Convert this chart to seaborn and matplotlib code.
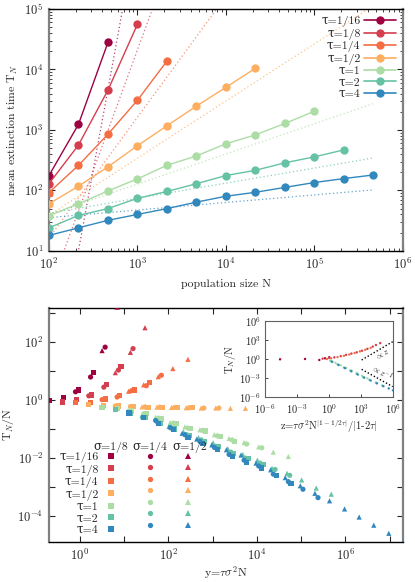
import numpy as np
import pandas as pd
import matplotlib
matplotlib.use("Agg")
import matplotlib.pyplot as plt
import seaborn as sns
from matplotlib.ticker import FixedLocator, NullFormatter, LogLocator, LogFormatterSciNotation, NullLocator
from matplotlib.lines import Line2D
from matplotlib.font_manager import FontProperties

sns.set_theme(style="ticks")
plt.rcParams.update({
    "font.family": "serif",
    "font.serif": ["cmr10", "DejaVu Serif"],
    "mathtext.fontset": "cm",
    "axes.formatter.use_mathtext": True,
    "axes.unicode_minus": False,
})
FAM = ["cmr10", "DejaVu Serif"]

# ---------------- data ----------------
TAU_LABELS = ["1/16", "1/8", "1/4", "1/2", "1", "2", "4"]
SIGMA_LABELS = ["1/8", "1/4", "1/2"]
COLORS = ["#9e0142", "#d53e4f", "#f46d43", "#fdae61", "#abdda4", "#66c2a5", "#3288bd"]

# top panel: population sizes and mean extinction times
N_GRID = [100, 215, 464, 1000, 2154, 4642, 10000, 21544, 46416, 100000, 215443, 464159]
T_TAU_1_16 = [176, 1230, 28000]
T_TAU_1_8 = [129, 560, 4560, 56000]
T_TAU_1_4 = [92, 259, 850, 3100, 13800]
T_TAU_1_2 = [60, 117, 245, 550, 1170, 2480, 5070, 10500]
T_TAU_1 = [38, 60, 98, 155, 260, 372, 590, 830, 1280, 2040]
T_TAU_2 = [24, 38.5, 50, 74, 96, 129, 176, 215, 286, 359, 468]
T_TAU_4 = [18, 24, 32, 40, 50, 64, 80, 93, 112, 135, 157, 180]
# asymptotic guides (dotted): exponent and log10 prefactor
GUIDE_EXP = [8, 4, 2, 0.946, 0.5, 0.25, 0.125]
GUIDE_LOGC = [-17.66, -7.675, -2.79, -0.305, 0.603, 1.12, 1.30]
GUIDE_N = [100, 464159]

# bottom panel: log10(y) and log10(T_N/N), per tau, for sigma = 1/8, 1/4, 1/2
LY_1_16 = [[-0.70, -0.37, -0.03, 0.30], [-0.10, 0.24, 0.57], [0.50, 0.84]]
LV_1_16 = [[-0.02, 0.08, 0.34, 0.94], [0.28, 0.79, 1.82], [1.70, 3.20]]
LY_1_8 = [[-0.40, -0.07, 0.27, 0.60, 0.93], [0.20, 0.54, 0.87, 1.20], [0.80, 1.14, 1.47]]
LV_1_8 = [[-0.07, 0.01, 0.17, 0.54, 1.15], [0.14, 0.44, 1.03, 1.77], [0.94, 1.64, 2.49]]
LY_1_4 = [[-0.10, 0.24, 0.57, 0.90, 1.24, 1.57], [0.50, 0.84, 1.17, 1.50, 1.84], [1.10, 1.44, 1.77, 2.10, 2.44]]
LV_1_4 = [[-0.10, -0.08, 0.03, 0.14, 0.34, 0.59], [0.01, 0.10, 0.32, 0.49, 0.85], [0.30, 0.52, 0.80, 1.08, 1.40]]
LY_1_2 = [[0.20, 0.54, 0.87, 1.20, 1.54, 1.87, 2.20, 2.54],
          [0.80, 1.14, 1.47, 1.80, 2.14, 2.47, 2.80, 3.14],
          [1.40, 1.74, 2.07, 2.40, 2.74, 3.07, 3.40, 3.74]]
LV_1_2 = [[-0.17, -0.18, -0.21, -0.23, -0.25, -0.25, -0.26, -0.27],
          [-0.21, -0.23, -0.24, -0.25, -0.26, -0.27, -0.28, -0.28],
          [-0.24, -0.25, -0.26, -0.27, -0.28, -0.28, -0.29, -0.29]]
LY_1 = [[0.50, 0.84, 1.17, 1.50, 1.84, 2.17, 2.50, 2.84, 3.17, 3.50],
        [1.11, 1.44, 1.77, 2.11, 2.44, 2.77, 3.11, 3.44, 3.77, 4.11],
        [1.71, 2.04, 2.37, 2.71, 3.04, 3.37, 3.71, 4.04, 4.37, 4.71]]
LV_1 = [[-0.25, -0.30, -0.38, -0.47, -0.66, -0.82, -0.98, -1.07, -1.25, -1.42],
        [-0.38, -0.48, -0.63, -0.80, -0.97, -1.05, -1.24, -1.38, -1.52, -1.65],
        [-0.60, -0.78, -0.93, -1.03, -1.20, -1.33, -1.47, -1.62, -1.80, -1.95]]
LY_2 = [[0.81, 1.14, 1.47, 1.81, 2.14, 2.47, 2.81, 3.14, 3.47, 3.81, 4.14],
        [1.41, 1.74, 2.07, 2.41, 2.74, 3.07, 3.41, 3.74, 4.07, 4.41, 4.74],
        [2.01, 2.34, 2.68, 3.01, 3.34, 3.68, 4.01, 4.34, 4.68, 5.01, 5.34, 5.68]]
LV_2 = [[-0.34, -0.48, -0.62, -0.80, -1.00, -1.22, -1.42, -1.62, -1.84, -2.03, -2.22],
        [-0.60, -0.75, -0.98, -1.20, -1.38, -1.60, -1.80, -2.01, -2.18, -2.40, -2.60],
        [-0.92, -1.10, -1.30, -1.48, -1.68, -1.88, -2.08, -2.36, -2.53, -2.76, -3.04, -3.25]]
LY_4 = [[1.11, 1.44, 1.77, 2.11, 2.44, 2.77, 3.11, 3.44, 3.77, 4.11, 4.44, 4.77],
        [1.71, 2.04, 2.37, 2.71, 3.04, 3.37, 3.71, 4.04, 4.37, 4.71, 5.04, 5.38],
        [2.31, 2.64, 2.98, 3.31, 3.64, 3.98, 4.31, 4.64, 4.98, 5.31, 5.64, 5.98, 6.31, 6.64, 6.98, 7.31]]
LV_4 = [[-0.45, -0.60, -0.80, -1.03, -1.29, -1.49, -1.72, -1.96, -2.15, -2.35, -2.62, -2.87],
        [-0.71, -0.95, -1.20, -1.43, -1.64, -1.88, -2.08, -2.28, -2.56, -2.82, -3.08, -3.37],
        [-1.15, -1.35, -1.55, -1.72, -1.90, -2.18, -2.41, -2.68, -2.96, -3.22, -3.48, -3.76, -4.04, -4.32, -4.60, -4.90]]

# inset: log10(z), log10(T_N/N) per tau
IN_LZ_1_16 = [-4.59, -2.25, -0.91, -0.38, 0.03]
IN_LV_1_16 = [-0.05, 0.0, -0.16, 0.11, 0.27]
IN_LZ_1_8 = [-0.6, 0.0, 0.5, 1.1, 1.6, 2.1, 2.6, 3.1, 3.6, 4.1, 4.4, 4.8]
IN_LV_1_8 = [0.05, 0.2, 0.25, 0.45, 0.65, 0.85, 1.05, 1.3, 1.6, 1.95, 2.2, 2.5]
IN_LZ_1_4 = [-0.2, 0.2, 0.8, 1.4, 1.9, 2.4, 2.9, 3.4, 3.9]
IN_LV_1_4 = [0.0, 0.1, 0.3, 0.5, 0.7, 0.95, 1.2, 1.45, 1.75]
IN_LZ_1 = [0.1, 0.6, 1.1, 1.6, 2.1, 2.6, 3.1, 3.6]
IN_LV_1 = [-0.25, -0.6, -1.0, -1.4, -1.8, -2.2, -2.65, -3.05]
IN_LZ_2 = [0.2, 0.8, 1.4, 2.0, 2.6, 3.2, 3.8, 4.4, 5.0]
IN_LV_2 = [-0.35, -0.85, -1.35, -1.85, -2.35, -2.85, -3.3, -3.75, -4.2]
IN_LZ_4 = [0.3, 0.9, 1.5, 2.1, 2.7, 3.3, 3.9, 4.5, 5.1, 5.6, 6.0]
IN_LV_4 = [-0.45, -0.95, -1.45, -1.95, -2.45, -2.95, -3.4, -3.85, -4.3, -4.65, -4.95]
GUIDE_UP_LZ = [3.06, 5.97]
GUIDE_UP_LV = [-0.16, 2.73]
GUIDE_DN_LZ = [3.06, 5.97]
GUIDE_DN_LV = [-1.63, -4.37]

# ---------------- build tables ----------------
top_series = [T_TAU_1_16, T_TAU_1_8, T_TAU_1_4, T_TAU_1_2, T_TAU_1, T_TAU_2, T_TAU_4]
rows = []
for lab, T in zip(TAU_LABELS, top_series):
    for n, t in zip(N_GRID, T):
        rows.append({"tau": lab, "N": n, "T": t})
df_top = pd.DataFrame(rows)

bot_y = [LY_1_16, LY_1_8, LY_1_4, LY_1_2, LY_1, LY_2, LY_4]
bot_v = [LV_1_16, LV_1_8, LV_1_4, LV_1_2, LV_1, LV_2, LV_4]
rows = []
for lab, ys, vs in zip(TAU_LABELS, bot_y, bot_v):
    for sig, yy, vv in zip(SIGMA_LABELS, ys, vs):
        for a, b in zip(yy, vv):
            rows.append({"tau": lab, "sigma": sig, "y": 10 ** a, "v": 10 ** b})
df_bot = pd.DataFrame(rows)

rows = []
for lab, zz, vv in [("1/16", IN_LZ_1_16, IN_LV_1_16), ("1/8", IN_LZ_1_8, IN_LV_1_8),
                    ("1/4", IN_LZ_1_4, IN_LV_1_4), ("1", IN_LZ_1, IN_LV_1),
                    ("2", IN_LZ_2, IN_LV_2), ("4", IN_LZ_4, IN_LV_4)]:
    for a, b in zip(zz, vv):
        rows.append({"tau": lab, "z": 10 ** a, "v": 10 ** b})
df_in = pd.DataFrame(rows)

pal = dict(zip(TAU_LABELS, COLORS))

# ---------------- figure ----------------
fig = plt.figure(figsize=(4.15, 5.82), dpi=100)
ax1 = fig.add_axes([0.118, 0.569, 0.853, 0.4155])
ax2 = fig.add_axes([0.118, 0.0687, 0.853, 0.4021])
axi = fig.add_axes([0.6386, 0.3179, 0.3084, 0.1306])

def style_spines(ax):
    for s in ["left", "right"]:
        ax.spines[s].set_color("#808080")
        ax.spines[s].set_linewidth(1.6)
    for s in ["top", "bottom"]:
        ax.spines[s].set_color("black")
        ax.spines[s].set_linewidth(1.0)

leg_font = FontProperties(family=FAM, size=8.5)

# ---- top panel ----
for i, lab in enumerate(TAU_LABELS):
    gN = np.array(GUIDE_N, dtype=float)
    ax1.plot(gN, 10 ** GUIDE_LOGC[i] * gN ** GUIDE_EXP[i], ls=(0, (1, 2)), lw=0.9,
             color=COLORS[i], alpha=0.75, zorder=1)
sns.lineplot(data=df_top, x="N", y="T", hue="tau", hue_order=TAU_LABELS, palette=pal,
             marker="o", markersize=6, markeredgewidth=0, linewidth=1.0, legend=False,
             ax=ax1, zorder=3)
ax1.set_xscale("log")
ax1.set_yscale("log")
ax1.set_xlim(100, 1e6)
ax1.set_ylim(10, 1e5)
ax1.set_xlabel("population size N", fontsize=8.5, labelpad=5)
ax1.set_ylabel(r"mean extinction time T$_N$", fontsize=8.5, labelpad=3)
ax1.tick_params(which="both", direction="in", top=True, right=True, labelsize=9, pad=4)
ax1.tick_params(which="major", length=4, width=0.8)
ax1.tick_params(which="minor", length=2.2, width=0.6)
ax1.xaxis.set_major_locator(LogLocator(base=10, numticks=10))
ax1.xaxis.set_minor_locator(LogLocator(base=10, subs=np.arange(2, 10), numticks=20))
ax1.yaxis.set_major_locator(LogLocator(base=10, numticks=10))
ax1.yaxis.set_minor_locator(LogLocator(base=10, subs=np.arange(2, 10), numticks=20))
ax1.xaxis.set_minor_formatter(NullFormatter())
ax1.yaxis.set_minor_formatter(NullFormatter())
style_spines(ax1)

handles = [Line2D([], [], color=c, marker="o", ms=6, mew=0, lw=1.2) for c in COLORS]
labels = ["\u03c4=" + t for t in TAU_LABELS]
ax1.legend(handles, labels, loc="upper right", frameon=False, markerfirst=False,
           prop=leg_font, handlelength=2.7, handletextpad=0.3, labelspacing=0.1,
           borderaxespad=0.3, borderpad=0.3)

# ---- bottom panel ----
sns.scatterplot(data=df_bot, x="y", y="v", hue="tau", hue_order=TAU_LABELS, palette=pal,
                style="sigma", style_order=SIGMA_LABELS,
                markers={"1/8": "s", "1/4": "o", "1/2": "^"},
                s=14, linewidth=0, legend=False, ax=ax2, zorder=3)
ax2.set_xscale("log")
ax2.set_yscale("log")
ax2.set_xlim(10 ** -0.70, 10 ** 7.3)
ax2.set_ylim(10 ** -4.9, 10 ** 3.17)
ax2.set_xlabel(r"y=$\tau\sigma^2$N", fontsize=8.5, labelpad=1)
ax2.set_ylabel(r"T$_N$/N", fontsize=8.5, labelpad=1)
ax2.xaxis.set_major_locator(FixedLocator([1, 1e2, 1e4, 1e6]))
ax2.xaxis.set_minor_locator(FixedLocator([1e-1, 1e1, 1e3, 1e5, 1e7]))
ax2.yaxis.set_major_locator(FixedLocator([1e-4, 1e-2, 1, 1e2]))
ax2.yaxis.set_minor_locator(FixedLocator([1e-5, 1e-3, 1e-1, 1e1, 1e3]))
ax2.xaxis.set_major_formatter(LogFormatterSciNotation())
ax2.yaxis.set_major_formatter(LogFormatterSciNotation())
ax2.xaxis.set_minor_formatter(NullFormatter())
ax2.yaxis.set_minor_formatter(NullFormatter())
ax2.tick_params(which="both", direction="in", top=True, right=True, labelsize=9, length=4, width=0.8, pad=4)
style_spines(ax2)

mk = {"1/8": "s", "1/4": "o", "1/2": "^"}
h2, l2 = [], []
for sig in SIGMA_LABELS:
    for lab, c in zip(TAU_LABELS, COLORS):
        h2.append(Line2D([], [], ls="none", marker=mk[sig], color=c, ms=3.8, mew=0))
        l2.append("\u03c4=" + lab if sig == "1/8" else "")
ax2.legend(h2, l2, ncol=3, loc="upper right", bbox_to_anchor=(0.41, 0.385), frameon=False,
           markerfirst=False, prop=leg_font, handlelength=1.0, handletextpad=0.6,
           columnspacing=1.65, labelspacing=0.1, borderaxespad=0, borderpad=0)
for sig, xf in zip(SIGMA_LABELS, [0.175, 0.285, 0.398]):
    ax2.text(xf, 0.402, "\u03c3=" + sig, transform=ax2.transAxes, ha="center",
             va="center", fontproperties=leg_font)

# ---- inset ----
sns.scatterplot(data=df_in, x="z", y="v", hue="tau", palette=pal, s=3, linewidth=0,
                legend=False, ax=axi, zorder=3)
axi.plot(10 ** np.array(GUIDE_UP_LZ), 10 ** np.array(GUIDE_UP_LV), ls=(0, (1, 1.5)), color="black", lw=1.0)
axi.plot(10 ** np.array(GUIDE_DN_LZ), 10 ** np.array(GUIDE_DN_LV), ls=(0, (1, 1.5)), color="black", lw=1.0)
axi.text(10 ** 5.0, 10 ** 0.75, r"$\propto z$", fontsize=6, rotation=30, ha="center", va="center")
axi.text(10 ** 5.0, 10 ** -2.1, r"$\propto z^{-1}$", fontsize=6, rotation=-30, ha="center", va="center")
axi.set_xscale("log")
axi.set_yscale("log")
axi.set_xlim(1e-6, 1e6)
axi.set_ylim(1e-6, 1e6)
axi.xaxis.set_major_locator(FixedLocator([1e-6, 1e-3, 1, 1e3, 1e6]))
axi.yaxis.set_major_locator(FixedLocator([1e-6, 1e-3, 1, 1e3, 1e6]))
axi.xaxis.set_minor_locator(NullLocator())
axi.yaxis.set_minor_locator(NullLocator())
axi.xaxis.set_major_formatter(LogFormatterSciNotation())
axi.yaxis.set_major_formatter(LogFormatterSciNotation())
axi.tick_params(which="both", direction="in", labelsize=7.5, length=2.5, width=0.6)
axi.tick_params(axis="x", pad=4)
axi.tick_params(axis="y", pad=3)
axi.set_xlabel(r"z=$\tau\sigma^2$N$^{|1-1/2\tau|}$/$|$1-2$\tau|$", fontsize=7.5, labelpad=1)
axi.set_ylabel(r"T$_N$/N", fontsize=7.5, labelpad=1)
for s in axi.spines.values():
    s.set_color("#606060")
    s.set_linewidth(0.8)

fig.savefig("out.png", dpi=100)
